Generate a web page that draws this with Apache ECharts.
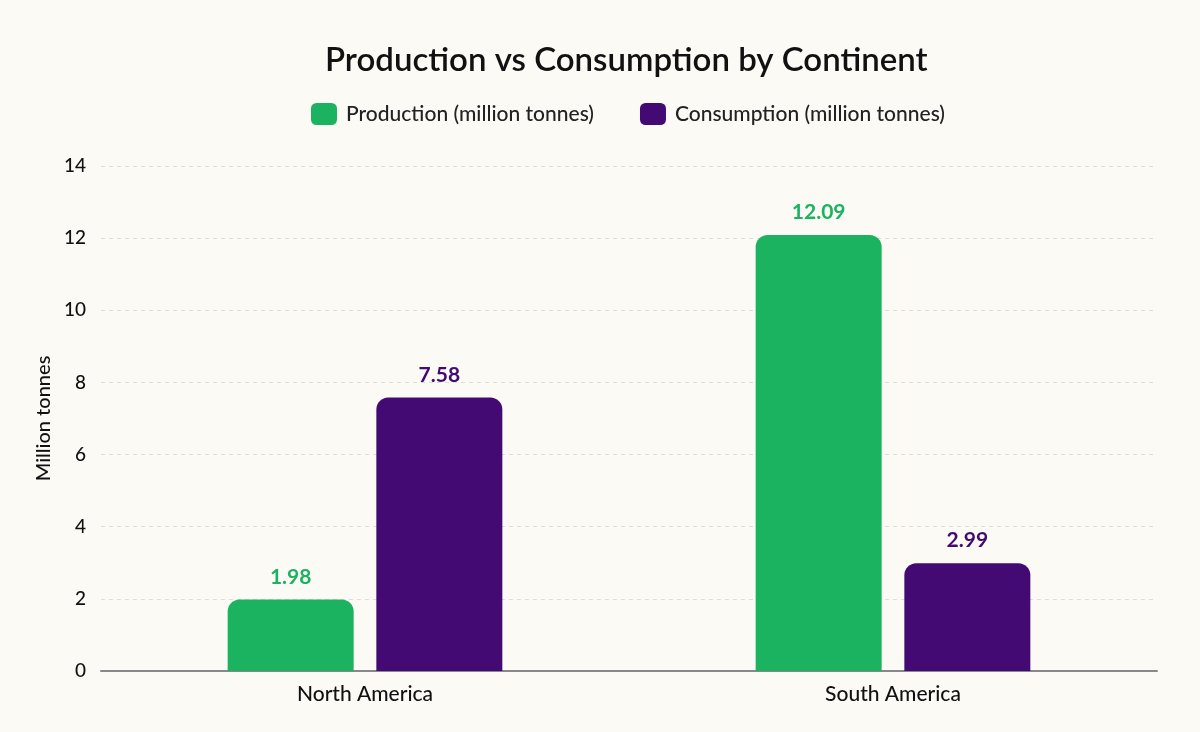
<!DOCTYPE html>
<html>
<head>
<meta charset="utf-8">
<script src="https://cdn.jsdelivr.net/npm/echarts@6/dist/echarts.min.js"></script>
<style>
  html, body { margin: 0; padding: 0; background: #FBFAF5; }
  #chart { width: 1200px; height: 732px; }
</style>
</head>
<body>
<div id="chart"></div>
<script>
const continents = ['North America', 'South America'];
const production = [1.98, 12.09];
const consumption = [7.58, 2.99];
const seriesNames = ['Production (million tonnes)', 'Consumption (million tonnes)'];
const colors = ['#1BB35F', '#430A74'];

const chart = echarts.init(document.getElementById('chart'));

const labelStyle = color => ({
  show: true,
  position: 'top',
  distance: 12,
  color: color,
  fontFamily: 'Lato',
  fontWeight: 'bold',
  fontSize: 21,
  formatter: p => p.value.toFixed(2)
});

const option = {
  backgroundColor: '#FBFAF5',
  textStyle: { fontFamily: 'Lato' },
  title: {
    text: 'Production vs Consumption by Continent',
    left: 320,
    top: 39,
    textStyle: { fontFamily: 'Lato', fontSize: 33, fontWeight: 600, color: '#111' }
  },
  legend: {
    top: 98,
    left: 306,
    itemWidth: 26,
    itemHeight: 22,
    itemGap: 46,
    icon: 'roundRect',
    textStyle: { fontFamily: 'Lato', fontSize: 21, fontWeight: 500, color: '#222', padding: [0, 0, 0, 4] },
    data: seriesNames
  },
  grid: { left: 101, right: 43, top: 166, bottom: 61 },
  xAxis: {
    type: 'category',
    data: continents,
    axisTick: { show: false },
    axisLine: { lineStyle: { color: '#888', width: 2 } },
    axisLabel: { color: '#111', fontSize: 21, fontWeight: 500, fontFamily: 'Lato', margin: 13 }
  },
  yAxis: {
    type: 'value',
    min: 0,
    max: 14,
    interval: 2,
    name: 'Million tonnes',
    nameLocation: 'middle',
    nameGap: 47,
    nameTextStyle: { color: '#111', fontSize: 20, fontWeight: 500, fontFamily: 'Lato' },
    axisLabel: { color: '#111', fontSize: 19, fontWeight: 500, fontFamily: 'Lato', margin: 15 },
    splitLine: { lineStyle: { color: '#dddddd', type: [4, 4] } }
  },
  series: [
    {
      name: seriesNames[0],
      type: 'bar',
      data: production,
      barWidth: 126,
      barGap: '18%',
      itemStyle: { color: colors[0], borderRadius: [12, 12, 0, 0] },
      label: labelStyle(colors[0])
    },
    {
      name: seriesNames[1],
      type: 'bar',
      data: consumption,
      barWidth: 126,
      itemStyle: { color: colors[1], borderRadius: [12, 12, 0, 0] },
      label: labelStyle(colors[1])
    }
  ]
};

chart.setOption(option);
</script>
</body>
</html>
